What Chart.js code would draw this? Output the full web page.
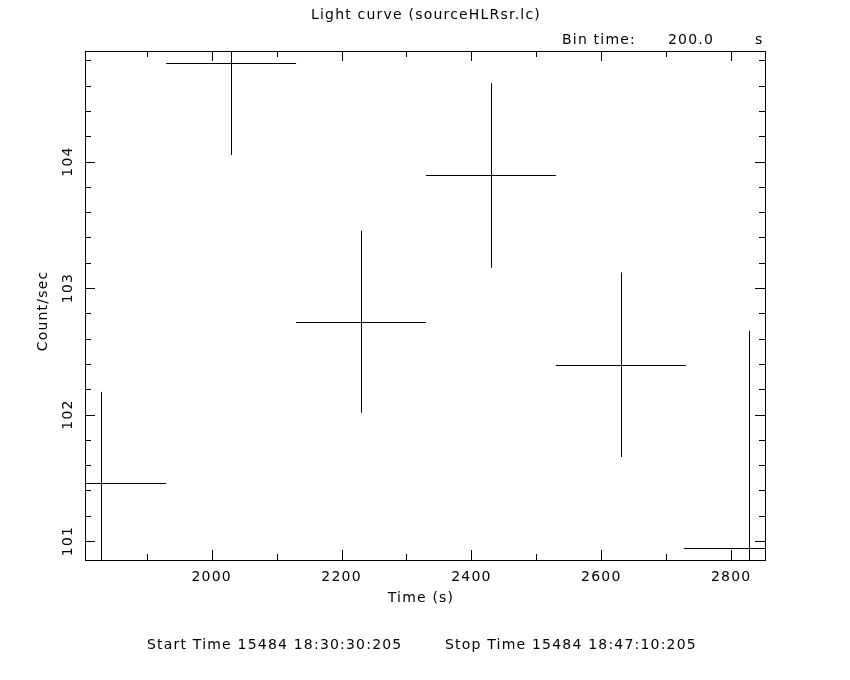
<!DOCTYPE html>
<html>
<head>
<meta charset="utf-8">
<script src="https://cdn.jsdelivr.net/npm/chart.js@4.4.1/dist/chart.umd.min.js"></script>
<style>
  html, body { margin: 0; padding: 0; background: #fff; }
  #wrap { width: 850px; height: 680px; }
</style>
</head>
<body>
<div id="wrap"><canvas id="lc" width="850" height="680"></canvas></div>
<script>
// datos de la curva de luz (centro del bin, cuentas/s, errores)
const binTimes = [1830, 2030, 2230, 2430, 2630, 2827];
const rates = [101.459, 104.782, 102.734, 103.89, 102.394, 100.942];
const rateErrors = [0.72, 0.73, 0.72, 0.73, 0.73, 1.72];
const halfBin = [100, 100, 100, 100, 100, 100];
const xTicks = [2000, 2200, 2400, 2600, 2800];
const yTicks = [101, 102, 103, 104];

const FONT = '14px "DejaVu Sans", sans-serif';

/**
 * Barras de error en cruz, recortadas al área del gráfico
 */
const errorBars = {
  id: 'errorBars',
  afterDatasetsDraw(chart) {
    const { ctx, chartArea: a, scales: { x, y } } = chart;
    ctx.save();
    ctx.beginPath();
    ctx.rect(a.left, a.top, a.right - a.left, a.bottom - a.top);
    ctx.clip();
    ctx.strokeStyle = '#000';
    ctx.lineWidth = 1;
    binTimes.forEach((t, i) => {
      const px = Math.round(x.getPixelForValue(t)) + 0.5;
      const py = Math.round(y.getPixelForValue(rates[i])) + 0.5;
      ctx.beginPath();
      ctx.moveTo(x.getPixelForValue(t - halfBin[i]), py);
      ctx.lineTo(x.getPixelForValue(t + halfBin[i]), py);
      ctx.moveTo(px, y.getPixelForValue(rates[i] + rateErrors[i]));
      ctx.lineTo(px, y.getPixelForValue(rates[i] - rateErrors[i]));
      ctx.stroke();
    });
    ctx.restore();
  }
};

/**
 * Marco, marcas hacia dentro y textos del estilo QDP
 */
const frameAndText = {
  id: 'frameAndText',
  afterDraw(chart) {
    const { ctx, chartArea: a, scales: { x, y } } = chart;
    ctx.save();
    ctx.strokeStyle = '#000';
    ctx.fillStyle = '#000';
    ctx.lineWidth = 1;

    // marco
    ctx.strokeRect(Math.round(a.left) + 0.5, Math.round(a.top) + 0.5,
      Math.round(a.right - a.left), Math.round(a.bottom - a.top));

    // marcas eje x (mayores cada 200, menores cada 100)
    ctx.beginPath();
    for (let v = 1900; v <= x.max; v += 100) {
      const px = Math.round(x.getPixelForValue(v)) + 0.5;
      const len = xTicks.includes(v) ? 10 : 6;
      ctx.moveTo(px, a.bottom); ctx.lineTo(px, a.bottom - len);
      ctx.moveTo(px, a.top); ctx.lineTo(px, a.top + len);
    }
    // marcas eje y (mayores cada 1, menores cada 0.2)
    for (let k = Math.ceil(y.min * 5); k <= Math.floor(y.max * 5); k++) {
      const v = k / 5;
      const py = Math.round(y.getPixelForValue(v)) + 0.5;
      const len = k % 5 === 0 ? 10 : 6;
      ctx.moveTo(a.left, py); ctx.lineTo(a.left + len, py);
      ctx.moveTo(a.right, py); ctx.lineTo(a.right - len, py);
    }
    ctx.stroke();

    ctx.font = FONT;
    ctx.letterSpacing = '1.2px';
    ctx.textBaseline = 'middle';

    // etiquetas eje x
    ctx.textAlign = 'center';
    xTicks.forEach(v => ctx.fillText(String(v), x.getPixelForValue(v), a.bottom + 17));
    ctx.fillText('Time (s)', 421, a.bottom + 38);

    // etiquetas eje y (giradas)
    yTicks.forEach(v => {
      ctx.save();
      ctx.translate(a.left - 17, y.getPixelForValue(v));
      ctx.rotate(-Math.PI / 2);
      ctx.fillText(String(v), 0, 0);
      ctx.restore();
    });
    ctx.save();
    ctx.translate(43, 311);
    ctx.rotate(-Math.PI / 2);
    ctx.fillText('Count/sec', 0, 0);
    ctx.restore();

    // títulos
    ctx.fillText('Light curve (sourceHLRsr.lc)', 426, 15);
    ctx.textAlign = 'left';
    ctx.fillText('Bin time:', 562, 40);
    ctx.fillText('200.0', 668, 40);
    ctx.fillText('s', 755, 40);
    ctx.fillText('Start Time 15484 18:30:30:205', 147, 645);
    ctx.fillText('Stop Time 15484 18:47:10:205', 445, 645);
    ctx.restore();
  }
};

const chart = new Chart(document.getElementById('lc').getContext('2d'), {
  type: 'scatter',
  data: {
    datasets: [{
      label: 'Count/sec',
      data: binTimes.map((t, i) => ({ x: t, y: rates[i] })),
      pointRadius: 0,
      showLine: false
    }]
  },
  options: {
    responsive: false,
    animation: false,
    layout: { padding: { left: 85, right: 85, top: 51, bottom: 120 } },
    plugins: {
      legend: { display: false },
      tooltip: { enabled: false }
    },
    scales: {
      x: {
        type: 'linear',
        min: 1805,
        max: 2852,
        display: false
      },
      y: {
        type: 'linear',
        min: 100.85,
        max: 104.874,
        display: false
      }
    }
  },
  plugins: [errorBars, frameAndText]
});
</script>
</body>
</html>
